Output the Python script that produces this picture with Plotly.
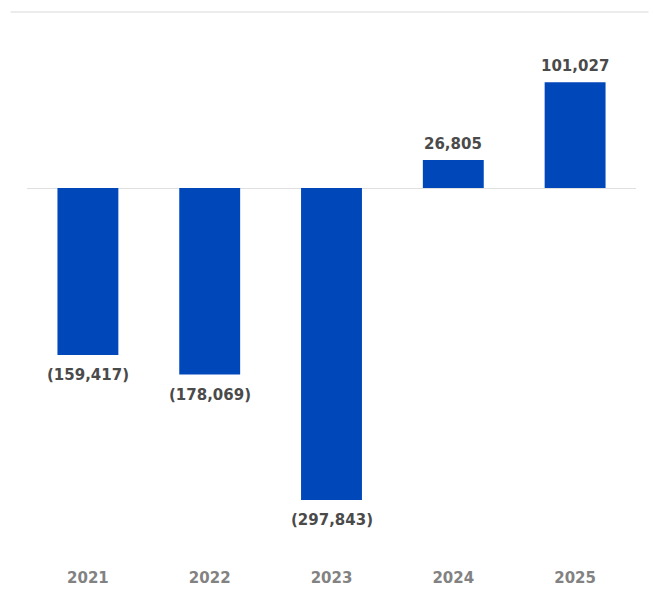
import plotly.graph_objects as go

years = ["2021", "2022", "2023", "2024", "2025"]
values = [-159417, -178069, -297843, 26805, 101027]

BAR_COLOR = "#0047BA"
LABEL_COLOR = "#4a4a4a"
TICK_COLOR = "#828282"

def fmt(v):
    return f"({abs(v):,})" if v < 0 else f"{v:,}"

fig = go.Figure()
fig.add_trace(go.Bar(
    x=years, y=values, marker_color=BAR_COLOR,
    marker_line_width=0, width=0.5, hoverinfo="skip",
))

for i, v in enumerate(values):
    fig.add_annotation(
        x=i, y=v, text=fmt(v), showarrow=False,
        yanchor="middle", yshift=16 if v >= 0 else -20,
        font=dict(family="DejaVu Sans", size=15, color=LABEL_COLOR, weight="bold"),
    )

W, H = 649, 589
ml, mr, mt, mb = 26.5, 12.5, 20, 34
plot_h = H - mt - mb
fig.add_shape(
    type="line", xref="paper", yref="paper",
    x0=(10 - ml) / (W - ml - mr), x1=(W - ml) / (W - ml - mr),
    y0=(H - mb - 12) / plot_h, y1=(H - mb - 12) / plot_h,
    line=dict(color="#d9d9d9", width=1),
)

fig.update_layout(
    width=W, height=H,
    margin=dict(l=ml, r=mr, t=mt, b=mb, autoexpand=False),
    plot_bgcolor="white", paper_bgcolor="white",
    showlegend=False,
    xaxis=dict(
        type="category", range=[-0.5, len(years) - 0.5], automargin=False,
        showgrid=False, showline=False, zeroline=False,
        ticks="outside", ticklen=9, tickcolor="rgba(0,0,0,0)",
        tickfont=dict(family="DejaVu Sans", size=15, color=TICK_COLOR, weight="bold"),
    ),
    yaxis=dict(
        range=[-350358, 160382], showgrid=False, showticklabels=False,
        zeroline=True, zerolinecolor="#e0e0e0", zerolinewidth=1,
        showline=False, automargin=False,
    ),
)

fig.write_html("out.html")
